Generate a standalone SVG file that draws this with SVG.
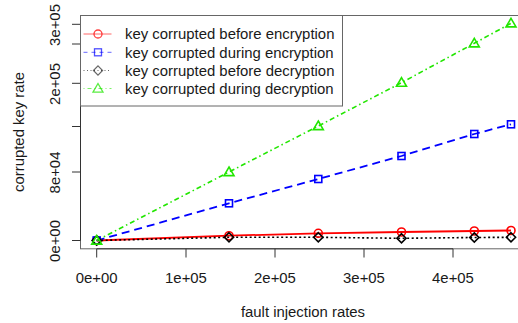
<svg xmlns="http://www.w3.org/2000/svg" width="518" height="323" viewBox="0 0 518 323">
  <style>
    text { font-family: "Liberation Sans", Arial, sans-serif; font-size: 14.9px; fill: #1a1a1a; }
    .frame { fill: none; stroke: #666; stroke-width: 1; }
    .axis { fill: none; stroke: #333; stroke-width: 1; }
    .red { stroke: #ff0000; fill: none; }
    .blue { stroke: #0000ff; fill: none; }
    .black { stroke: #000; fill: none; }
    .green { stroke: #22e600; fill: none; }
    .sym { stroke-width: 1.6; fill: none; }
    .leg { stroke-width: 1; opacity: 0.6; }
  </style>
  <defs>
    <circle id="m-circle" r="4" />
    <rect id="m-square" x="-3.5" y="-3.5" width="7" height="7" />
    <polygon id="m-diamond" points="0,-4.6 4.6,0 0,4.6 -4.6,0" />
    <polygon id="m-triangle" points="0,-5 5,3.6 -5,3.6" />
  </defs>
  <rect width="518" height="323" fill="#fff" />

  <!-- plot frame -->
  <g id="frame">
    <rect class="frame" x="80.5" y="15.5" width="460" height="233.3" />
  </g>

  <!-- axes -->
  <g id="y-axis">
    <path class="axis" d="M80.5 24.3V240.5M72 24.3H80.5M72 44H80.5M72 83.3H80.5M72 126.5H80.5M72 172H80.5M72 240.5H80.5" />
    <text transform="translate(59.5,25) rotate(-90)" text-anchor="middle">3e+05</text>
    <text transform="translate(59.5,84) rotate(-90)" text-anchor="middle">2e+05</text>
    <text transform="translate(59.5,172.5) rotate(-90)" text-anchor="middle">8e+04</text>
    <text transform="translate(59.5,241) rotate(-90)" text-anchor="middle">0e+00</text>
    <text transform="translate(24,132) rotate(-90)" text-anchor="middle">corrupted key rate</text>
  </g>
  <g id="x-axis">
    <path class="axis" d="M96.7 248.8H453M96.7 248.8V257.5M186 248.8V257.5M275 248.8V257.5M364 248.8V257.5M453 248.8V257.5" />
    <text x="96.7" y="282.5" text-anchor="middle">0e+00</text>
    <text x="186" y="282.5" text-anchor="middle">1e+05</text>
    <text x="275" y="282.5" text-anchor="middle">2e+05</text>
    <text x="364" y="282.5" text-anchor="middle">3e+05</text>
    <text x="453" y="282.5" text-anchor="middle">4e+05</text>
    <text x="303" y="317" text-anchor="middle">fault injection rates</text>
  </g>

  <!-- data series -->
  <g id="connectors">
    <polyline class="red" stroke-width="1.8" points="96.7,240.5 229,235.7 318.3,233.3 401.5,232 474.3,231 511,230.5" />
    <polyline class="blue" stroke-width="1.8" stroke-dasharray="8 5" points="96.7,240.5 229,203.3 318.3,179 401.5,156 474.3,134 511,124.3" />
    <polyline class="black" stroke-width="1.6" stroke-dasharray="2 2.5" points="96.7,240.5 229,237.3 318.3,237.3 401.5,238.3 474.3,237.5 511,237.3" />
    <polyline class="green" stroke-width="1.6" stroke-dasharray="5 3 1.5 3" points="96.7,240.5 229,172 318.3,126 401.5,82.7 474.3,43.3 511,23.3" />
  </g>

  <g id="series-red" class="red sym">
    <use href="#m-circle" x="96.7" y="240.5" />
    <use href="#m-circle" x="229" y="235.7" />
    <use href="#m-circle" x="318.3" y="233.3" />
    <use href="#m-circle" x="401.5" y="232" />
    <use href="#m-circle" x="474.3" y="231" />
    <use href="#m-circle" x="511" y="230.5" />
  </g>
  <g id="series-blue" class="blue sym">
    <use href="#m-square" x="96.7" y="240.5" />
    <use href="#m-square" x="229" y="203.3" />
    <use href="#m-square" x="318.3" y="179" />
    <use href="#m-square" x="401.5" y="156" />
    <use href="#m-square" x="474.3" y="134" />
    <use href="#m-square" x="511" y="124.3" />
  </g>
  <g id="series-black" class="black sym">
    <use href="#m-diamond" x="96.7" y="240.5" />
    <use href="#m-diamond" x="229" y="237.3" />
    <use href="#m-diamond" x="318.3" y="237.3" />
    <use href="#m-diamond" x="401.5" y="238.3" />
    <use href="#m-diamond" x="474.3" y="237.5" />
    <use href="#m-diamond" x="511" y="237.3" />
  </g>
  <g id="series-green" class="green sym">
    <use href="#m-triangle" x="96.7" y="240.5" />
    <use href="#m-triangle" x="229" y="172" />
    <use href="#m-triangle" x="318.3" y="126" />
    <use href="#m-triangle" x="401.5" y="82.7" />
    <use href="#m-triangle" x="474.3" y="43.3" />
    <use href="#m-triangle" x="511" y="23.3" />
  </g>

  <!-- legend -->
  <g id="legend">
    <rect x="80.5" y="15.5" width="262" height="90.5" fill="#fff" stroke="#666" stroke-width="1" />
    <line class="red leg" x1="83.5" y1="34" x2="111.5" y2="34" />
    <use class="red" href="#m-circle" x="98" y="34" stroke-width="1.3" opacity="0.75" />
    <line class="blue leg" stroke-dasharray="4 4" x1="83.5" y1="52.3" x2="111.5" y2="52.3" />
    <use class="blue" href="#m-square" x="98" y="52.3" stroke-width="1.3" opacity="0.7" />
    <line class="black leg" stroke-dasharray="1 2.5" x1="83.5" y1="70.5" x2="111.5" y2="70.5" />
    <use class="black" href="#m-diamond" x="98" y="70.5" stroke-width="1.2" opacity="0.6" />
    <line class="green leg" stroke-dasharray="1 3 4 3" x1="83.5" y1="88.5" x2="111.5" y2="88.5" />
    <use class="green" href="#m-triangle" x="98" y="88.5" stroke-width="1.3" opacity="0.75" />
    <text x="125" y="39.2">key corrupted before encryption</text>
    <text x="125" y="57.5">key corrupted during encryption</text>
    <text x="125" y="75.7">key corrupted before decryption</text>
    <text x="125" y="93.7">key corrupted during decryption</text>
  </g>
</svg>
